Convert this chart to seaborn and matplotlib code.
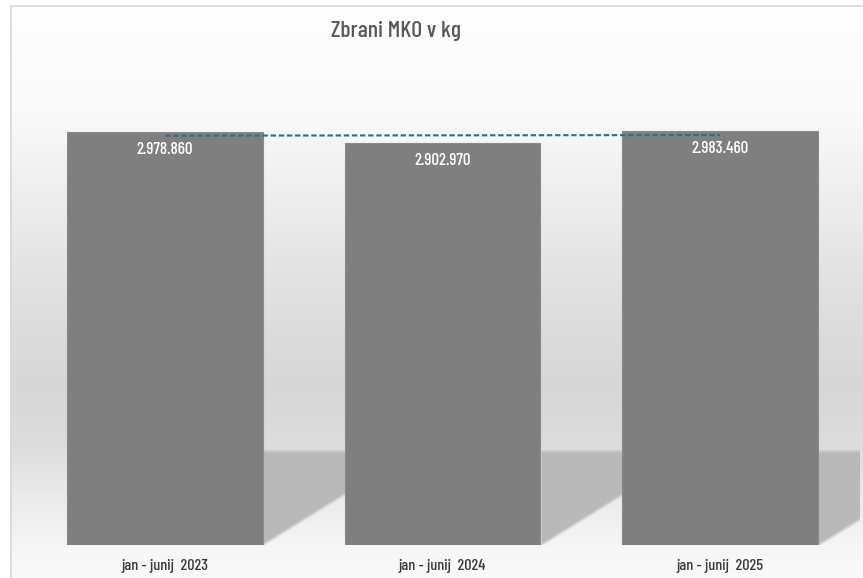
import numpy as np
import pandas as pd
import matplotlib
matplotlib.use("Agg")
import matplotlib.pyplot as plt
import seaborn as sns

# ---- data ----
periods = ["jan - junij  2023", "jan - junij  2024", "jan - junij  2025"]
values = [2978860, 2902970, 2983460]
title = "Zbrani MKO v kg"

sns.set_theme(style="white")
FONT = ["Barlow Condensed", "DejaVu Sans"]
plt.rcParams["font.family"] = FONT

W, H = 863, 578
fig = plt.figure(figsize=(W / 100, H / 100), dpi=100)

# background axes in pixel coordinates
bg = fig.add_axes([0, 0, 1, 1], zorder=0)
bg.set_xlim(0, W)
bg.set_ylim(H, 0)
bg.axis("off")

# main axes
ax_left, ax_right = 26.25, 858.75
ax_bottom_px, ax_top_px = 545.0, 59.8
ax = fig.add_axes([ax_left / W, (H - ax_bottom_px) / H,
                   (ax_right - ax_left) / W, (ax_bottom_px - ax_top_px) / H],
                  zorder=1)
ax.patch.set_alpha(0)

df = pd.DataFrame({"period": periods, "value": values})
sns.barplot(data=df, x="period", y="value", color="#7f7f7f", width=0.706,
            saturation=1, edgecolor="#8a8a8a", linewidth=0.8, ax=ax, zorder=3)
ax.set_xlim(-0.5, len(periods) - 0.5)
ax.set_ylim(0, 3500000)
ax.set_xlabel("")
ax.set_ylabel("")
ax.set_yticks([])
for s in ax.spines.values():
    s.set_visible(False)
ax.tick_params(axis="x", length=0, pad=10, labelsize=11.6, labelcolor="#3a3a3a")
for t in ax.get_xticklabels():
    t.set_family(FONT)
    t.set_fontweight(500)

# data labels
for p, v in zip(ax.patches, values):
    ax.annotate(f"{v:,}".replace(",", "."),
                (p.get_x() + p.get_width() / 2, p.get_height()),
                xytext=(0, -12.6), textcoords="offset points",
                ha="center", va="center", color="white", fontsize=12.2,
                fontweight=500, family=FONT, zorder=5)

# linear trendline
xs = np.arange(len(values))
k, b0 = np.polyfit(xs, values, 1)
ax.plot(xs[[0, -1]], k * xs[[0, -1]] + b0, color="#27708f", lw=1.5,
        dashes=(2.6, 1.3), zorder=6)

# ---- background image: gradient + floor shadows ----
stops_y = [5, 110, 184, 258, 332, 387, 442, 498, 553, 578]
stops_v = [254, 250, 240, 229, 220, 215, 220, 235, 247, 250]
rows = np.interp(np.arange(H) + 0.5, stops_y, stops_v) / 255.0
img = np.ones((H, W, 3))
gray = np.repeat(rows[:, None], W, axis=1)

yy, xx = np.mgrid[0:H, 0:W] + 0.5
fig.canvas.draw()
shadow_col = 185 / 255.0
top_up = ax_bottom_px - 451.0
slope = 0.62


def ss(d, w):
    t = np.clip(d / w + 0.5, 0, 1)
    return t * t * (3 - 2 * t)


mask_total = np.zeros((H, W))
for p in ax.patches:
    xr_disp, yb_disp = ax.transData.transform((p.get_x() + p.get_width(), 0))
    xr = xr_disp
    yb = H - yb_disp
    dx = xx - xr
    up = yb - yy
    m = ss(dx, 1.0) * ss(top_up - up, 6.0) * ss((up - dx * slope) / np.sqrt(1 + slope ** 2), 5.0)
    m *= ss(up, 1.0)
    m *= (xx <= ax_right)
    mask_total = np.maximum(mask_total, m)
gray = gray * (1 - mask_total) + shadow_col * mask_total

img[:] = gray[:, :, None]
img[:, :10, :] = 1.0
img[:5, :, :] = 1.0
bg.imshow(img, extent=(0, W, H, 0), interpolation="nearest", aspect="auto", zorder=0)
bg.plot([10.5, 10.5], [H + 2, 5.5], color="#d9d9d9", lw=1.3, zorder=1)
bg.plot([10.5, W + 2], [5.5, 5.5], color="#d9d9d9", lw=1.3, zorder=1)

# title
fig.text(396 / W, 1 - 31 / H, title, ha="center", va="center", fontsize=17,
         fontweight=500, color="#595959", family=FONT)

fig.savefig("out.png", dpi=100)
